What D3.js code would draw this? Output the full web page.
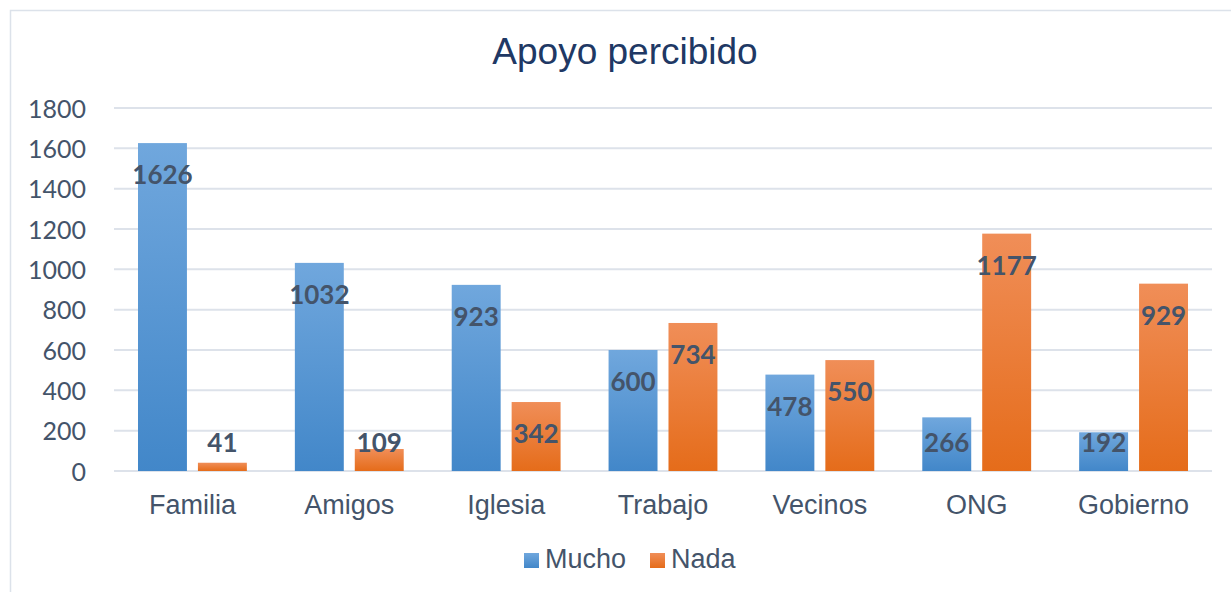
<html>
<head>
<meta charset="utf-8">
<script src="https://cdn.jsdelivr.net/npm/d3@7"></script>
<style>
  body { margin: 0; background: #fff; }
</style>
</head>
<body>
<svg width="1231" height="592"></svg>
<script>
  const categories = ["Familia", "Amigos", "Iglesia", "Trabajo", "Vecinos", "ONG", "Gobierno"];
  const series = ["Mucho", "Nada"];
  const mucho = [1626, 1032, 923, 600, 478, 266, 192];
  const nada = [41, 109, 342, 734, 550, 1177, 929];
  const yTicks = [0, 200, 400, 600, 800, 1000, 1200, 1400, 1600, 1800];

  const values = {Mucho: mucho, Nada: nada};
  const colors = {
    Mucho: ["#70a7dd", "#4287c9"],
    Nada: ["#f08e58", "#e56c1a"]
  };

  const svg = d3.select("svg");
  const textColor = "#44546a";

  // gradients
  const defs = svg.append("defs");
  series.forEach(s => {
    const g = defs.append("linearGradient")
        .attr("id", "grad-" + s)
        .attr("x1", 0).attr("y1", 0).attr("x2", 0).attr("y2", 1);
    g.append("stop").attr("offset", "0%").attr("stop-color", colors[s][0]);
    g.append("stop").attr("offset", "100%").attr("stop-color", colors[s][1]);
  });

  // chart frame
  svg.append("rect")
      .attr("x", 10.5).attr("y", 10.5)
      .attr("width", 1240).attr("height", 600)
      .attr("fill", "none")
      .attr("stroke", "#dce2ea")
      .attr("stroke-width", 1.5);

  const plotLeft = 114, plotRight = 1212, plotTop = 108, plotBottom = 471;

  const y = d3.scaleLinear().domain([0, 1800]).range([plotBottom, plotTop]);
  const x0 = d3.scaleBand().domain(categories).range([plotLeft, plotRight]).padding(0);
  const x1 = d3.scaleBand().domain(series).range([24, x0.bandwidth() - 24]).paddingInner(11 / 60);

  // gridlines
  svg.append("g")
      .selectAll("line")
      .data(yTicks)
      .enter()
      .append("line")
      .attr("x1", plotLeft).attr("x2", plotRight)
      .attr("y1", d => y(d)).attr("y2", d => y(d))
      .attr("stroke", "#dde2ea")
      .attr("stroke-width", 2);

  // y axis labels
  const yAxis = svg.append("g")
      .attr("transform", `translate(86,0)`)
      .call(d3.axisLeft(y).tickValues(yTicks).tickFormat(d3.format("d")).tickSize(0).tickPadding(0));
  yAxis.select(".domain").remove();
  yAxis.selectAll("text")
      .attr("fill", textColor)
      .style("font-family", "Lato, 'Open Sans', sans-serif")
      .style("font-size", "25px")
      .attr("dy", "0.36em");

  // bars
  const groups = svg.append("g")
      .selectAll("g")
      .data(categories)
      .enter()
      .append("g")
      .attr("transform", d => `translate(${x0(d)},0)`);

  const cells = groups.selectAll("g")
      .data((c, i) => series.map(s => ({s, v: values[s][i]})))
      .enter()
      .append("g");

  cells.append("rect")
      .attr("x", d => x1(d.s))
      .attr("width", x1.bandwidth())
      .attr("y", d => y(d.v))
      .attr("height", d => plotBottom - y(d.v))
      .attr("fill", d => `url(#grad-${d.s})`);

  cells.append("text")
      .attr("x", d => x1(d.s) + x1.bandwidth() / 2)
      .attr("y", d => Math.min(y(d.v) + 32, plotBottom - 28) + 9)
      .attr("text-anchor", "middle")
      .attr("fill", textColor)
      .style("font-family", "Lato, 'Open Sans', sans-serif")
      .style("font-weight", "bold")
      .style("font-size", "26px")
      .text(d => d.v);

  // x axis labels
  const xAxis = svg.append("g")
      .attr("transform", `translate(0,${plotBottom})`)
      .call(d3.axisBottom(x0).tickSize(0).tickPadding(0));
  xAxis.select(".domain").remove();
  xAxis.selectAll("text")
      .attr("fill", textColor)
      .attr("y", 43)
      .attr("dy", 0)
      .style("font-family", "'Liberation Sans', Arial, sans-serif")
      .style("font-size", "27px");

  // title
  svg.append("text")
      .attr("x", 625).attr("y", 64)
      .attr("text-anchor", "middle")
      .attr("fill", "#203864")
      .style("font-family", "'Liberation Sans', Arial, sans-serif")
      .style("font-size", "37px")
      .text("Apoyo percibido");

  // legend
  const legendPos = {Mucho: 524, Nada: 650};
  const legend = svg.append("g")
      .selectAll("g")
      .data(series)
      .enter()
      .append("g")
      .attr("transform", d => `translate(${legendPos[d]},0)`);
  legend.append("rect")
      .attr("x", 0).attr("y", 553)
      .attr("width", 15).attr("height", 15)
      .attr("fill", d => `url(#grad-${d})`);
  legend.append("text")
      .attr("x", 21).attr("y", 568)
      .attr("fill", textColor)
      .style("font-family", "'Liberation Sans', Arial, sans-serif")
      .style("font-size", "27px")
      .text(d => d);
</script>
</body>
</html>
